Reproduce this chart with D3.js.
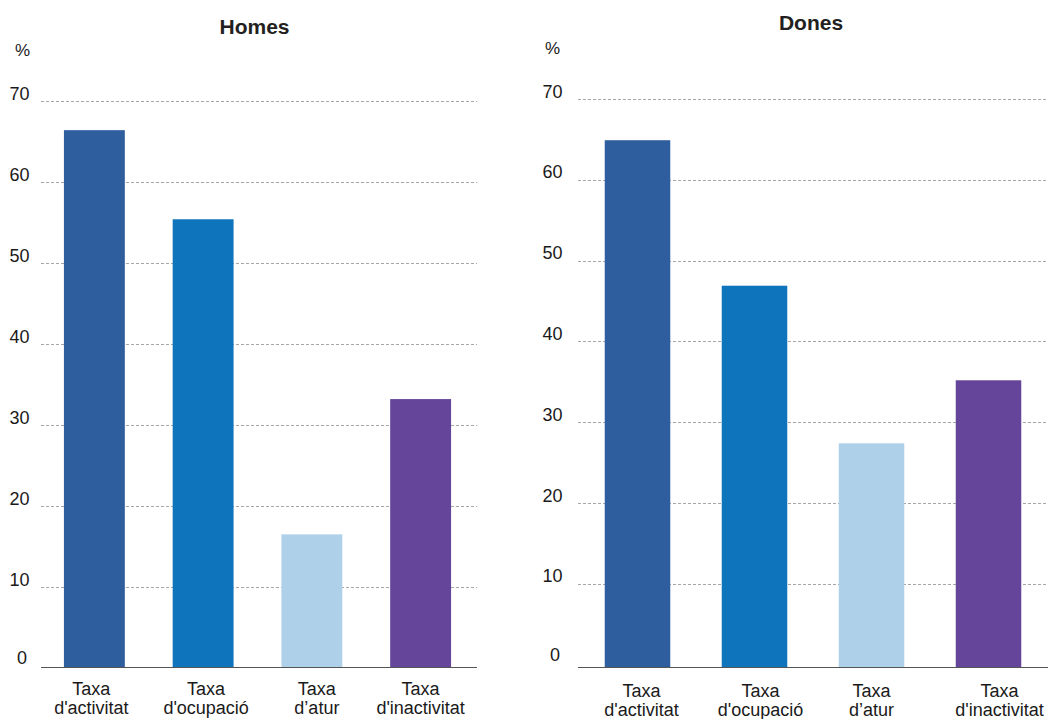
<!DOCTYPE html>
<html>
<head>
<meta charset="utf-8">
<script src="https://cdn.jsdelivr.net/npm/d3@7/dist/d3.min.js"></script>
<style>
  html, body { margin: 0; padding: 0; background: #fff; }
  svg { display: block; font-family: "Liberation Sans", Arial, Helvetica, sans-serif; }
</style>
</head>
<body>
<svg id="chart" width="1048" height="719"></svg>
<script>
// ---- data ----
const categoriesLine1 = ["Taxa", "Taxa", "Taxa", "Taxa"];
const categoriesLine2 = ["d'activitat", "d'ocupació", "d\u2019atur", "d'inactivitat"];
const categories = ["activitat", "ocupacio", "atur", "inactivitat"];
const homesValues = [66.4, 55.4, 16.5, 33.2];
const donesValues = [64.9, 46.9, 27.4, 35.2];
const yTicks = [0, 10, 20, 30, 40, 50, 60, 70];
const panelTitles = ["Homes", "Dones"];
const unitLabel = "%";

// ---- styles ----
const barColors = ["#2e5e9e", "#0e74bb", "#afd0e9", "#644599"];

// ---- layout (positions only) ----
const panels = [
  { title: panelTitles[0], values: homesValues,
    xRange: [40, 475], yRange: [668, 101], gridX: [41, 477], baseY: 667.5,
    titleX: 254.5, titleY: 34, unitX: 15, unitY: 56, tickX: 29.5,
    labY1: 695, labY2: 714, labShift: [-3, 3, 5, 0] },
  { title: panelTitles[1], values: donesValues,
    xRange: [579, 1047], yRange: [664.8, 99], gridX: [578, 1048], baseY: 667.5,
    titleX: 811, titleY: 30, unitX: 545, unitY: 54, tickX: 562.5,
    labY1: 697, labY2: 716, labShift: [4, 6, 0, 11] }
];

const svg = d3.select("#chart");

panels.forEach(p => {
  const g = svg.append("g");
  const x = d3.scaleBand().domain(categories).range(p.xRange)
    .paddingInner(0.44).paddingOuter(0.22);
  const y = d3.scaleLinear().domain([0, 70]).range(p.yRange);

  // gridlines
  g.selectAll("line.grid").data(yTicks.filter(t => t > 0)).join("line")
    .attr("class", "grid")
    .attr("x1", p.gridX[0]).attr("x2", p.gridX[1])
    .attr("y1", d => Math.round(y(d)) + 0.5).attr("y2", d => Math.round(y(d)) + 0.5)
    .attr("stroke", "#a6a6a6").attr("stroke-width", 1)
    .attr("stroke-dasharray", "3,2");

  // tick labels
  g.selectAll("text.tick").data(yTicks).join("text")
    .attr("class", "tick")
    .attr("x", d => d === 0 ? p.tickX - 2.5 : p.tickX)
    .attr("y", d => d === 0 ? y(d) - 4 : y(d) - 1.5)
    .attr("text-anchor", "end")
    .attr("font-size", 18)
    .attr("fill", "#1a1a1a")
    .text(d => d);

  // unit
  g.append("text").attr("x", p.unitX).attr("y", p.unitY)
    .attr("font-size", 17).attr("fill", "#1a1a1a").text(unitLabel);

  // title
  g.append("text").attr("x", p.titleX).attr("y", p.titleY)
    .attr("text-anchor", "middle").attr("font-size", 21).attr("font-weight", "bold")
    .attr("fill", "#231f20").text(p.title);

  // bars
  g.selectAll("rect.bar").data(p.values).join("rect")
    .attr("class", "bar")
    .attr("x", (d, i) => x(categories[i]))
    .attr("width", x.bandwidth())
    .attr("y", d => y(d))
    .attr("height", d => p.baseY - y(d))
    .attr("fill", (d, i) => barColors[i]);

  // baseline axis
  g.append("line")
    .attr("x1", p.gridX[0]).attr("x2", p.gridX[1])
    .attr("y1", p.baseY).attr("y2", p.baseY)
    .attr("stroke", "#555").attr("stroke-width", 1);

  // category labels
  const labs = g.selectAll("text.cat").data(categories).join("text")
    .attr("class", "cat")
    .attr("text-anchor", "middle")
    .attr("font-size", 18)
    .attr("fill", "#1a1a1a");
  labs.append("tspan")
    .attr("x", (d, i) => x(d) + x.bandwidth() / 2 + p.labShift[i])
    .attr("y", p.labY1)
    .text((d, i) => categoriesLine1[i]);
  labs.append("tspan")
    .attr("x", (d, i) => x(d) + x.bandwidth() / 2 + p.labShift[i])
    .attr("y", p.labY2)
    .text((d, i) => categoriesLine2[i]);
});
</script>
</body>
</html>
